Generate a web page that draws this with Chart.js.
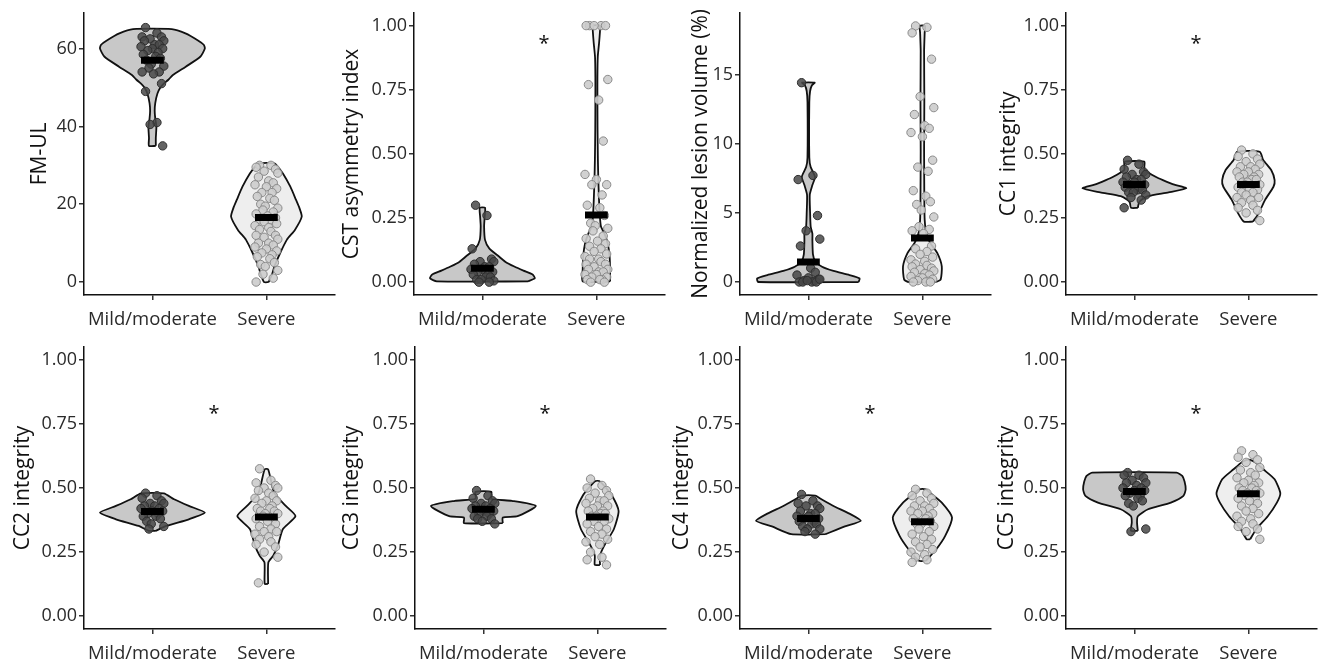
<!DOCTYPE html>
<html>
<head>
<meta charset="utf-8">
<script src="https://cdn.jsdelivr.net/npm/chart.js@4.4.1/dist/chart.umd.min.js"></script>
<style>
  html, body { margin: 0; padding: 0; background: #fff; }
  #wrap { position: relative; width: 1321px; height: 661px; overflow: hidden; }
  #wrap canvas { position: absolute; }
</style>
</head>
<body>
<div id="wrap"></div>
<script>
// ---- data ----
const groups = ['Mild/moderate', 'Severe'];

const yTitles = ['FM-UL', 'CST asymmetry index', 'Normalized lesion volume (%)', 'CC1 integrity',
  'CC2 integrity', 'CC3 integrity', 'CC4 integrity', 'CC5 integrity'];

const unitTicks = [0, 0.25, 0.5, 0.75, 1];
const unitLabels = ['0.00', '0.25', '0.50', '0.75', '1.00'];
const yTickValues = [[0, 20, 40, 60], unitTicks, [0, 5, 10, 15], unitTicks, unitTicks, unitTicks, unitTicks, unitTicks];
const yTickLabels = [['0', '20', '40', '60'], unitLabels, ['0', '5', '10', '15'], unitLabels,
  unitLabels, unitLabels, unitLabels, unitLabels];
const yRanges = [[-3.33, 69.2], [-0.05, 1.05], [-0.94, 19.45], [-0.05, 1.05],
  [-0.05, 1.05], [-0.05, 1.05], [-0.05, 1.05], [-0.05, 1.05]];

const medianMild = [57, 0.054, 1.44, 0.381, 0.408, 0.417, 0.381, 0.486];
const medianSevere = [16.6, 0.262, 3.17, 0.381, 0.387, 0.387, 0.368, 0.478];

// significance marks (value on y axis; null = none)
const starY = [null, 0.945, null, 0.945, 0.805, 0.805, 0.805, 0.805];

// violin outlines: [value, half width in category units], bottom to top
const violinMild = [
  [[35, 0.03], [37, 0.03], [40, 0.035], [42, 0.025], [44, 0.02], [46, 0.025], [48.5, 0.045], [50, 0.07], [51, 0.1], [52, 0.14], [53.2, 0.18], [55.3, 0.29], [57.9, 0.42], [60, 0.46], [61, 0.45], [62.1, 0.40], [63.9, 0.29], [65, 0.17]],
  [[0.003, 0.40], [0.015, 0.46], [0.03, 0.44], [0.045, 0.36], [0.061, 0.28], [0.08, 0.2], [0.10, 0.145], [0.132, 0.06], [0.165, 0.023], [0.217, 0.015], [0.255, 0.02], [0.29, 0.023]],
  [[0, 0.44], [0.25, 0.45], [0.5, 0.36], [0.8, 0.22], [1.1, 0.12], [1.5, 0.06], [2.0, 0.04], [3.0, 0.035], [3.5, 0.035], [4.0, 0.02], [5.0, 0.015], [6.3, 0.012], [7.0, 0.035], [7.6, 0.058], [8.3, 0.02], [9, 0.008], [13, 0.008], [13.8, 0.015], [14.2, 0.03], [14.4, 0.055]],
  [[0.29, 0.03], [0.31, 0.04], [0.32, 0.06], [0.335, 0.12], [0.35, 0.3], [0.366, 0.455], [0.38, 0.35], [0.398, 0.25], [0.41, 0.19], [0.437, 0.09], [0.45, 0.087], [0.47, 0.087]],
  [[0.333, 0.03], [0.352, 0.12], [0.378, 0.32], [0.404, 0.46], [0.43, 0.32], [0.456, 0.19], [0.479, 0.1]],
  [[0.363, 0.17], [0.385, 0.17], [0.39, 0.30], [0.43, 0.46], [0.45, 0.25], [0.458, 0.07], [0.485, 0.07]],
  [[0.32, 0.15], [0.35, 0.32], [0.372, 0.46], [0.40, 0.36], [0.43, 0.22], [0.46, 0.1], [0.47, 0.06]],
  [[0.333, 0.03], [0.365, 0.023], [0.39, 0.03], [0.417, 0.12], [0.443, 0.32], [0.469, 0.43], [0.495, 0.45], [0.525, 0.44], [0.547, 0.42], [0.56, 0.37]],
];
const violinSevere = [
  [[0, 0.02], [2, 0.05], [4, 0.07], [7.4, 0.12], [10.9, 0.18], [13.4, 0.25], [16.8, 0.31], [19, 0.29], [21.1, 0.26], [24.5, 0.21], [27.9, 0.145], [30, 0.09], [30.5, 0.07]],
  [[0.003, 0.12], [0.05, 0.12], [0.10, 0.116], [0.15, 0.10], [0.19, 0.07], [0.217, 0.04], [0.26, 0.03], [0.32, 0.023], [0.40, 0.017], [0.48, 0.013], [0.6, 0.01], [0.71, 0.009], [0.8, 0.009], [0.878, 0.012], [0.93, 0.023], [0.969, 0.03], [1.0, 0.03]],
  [[0, 0.12], [0.17, 0.16], [1.13, 0.17], [2.1, 0.13], [2.8, 0.07], [3.5, 0.035], [4.5, 0.02], [5.9, 0.017], [9.5, 0.015], [13.1, 0.017], [16.7, 0.015], [18, 0.02], [18.5, 0.023]],
  [[0.236, 0.04], [0.268, 0.09], [0.32, 0.145], [0.372, 0.22], [0.398, 0.23], [0.437, 0.2], [0.476, 0.13], [0.508, 0.1]],
  [[0.126, 0.015], [0.21, 0.017], [0.236, 0.06], [0.275, 0.1], [0.34, 0.145], [0.39, 0.255], [0.43, 0.17], [0.48, 0.07], [0.52, 0.045], [0.573, 0.015]],
  [[0.2, 0.023], [0.236, 0.023], [0.275, 0.06], [0.34, 0.145], [0.41, 0.186], [0.469, 0.13], [0.508, 0.06], [0.527, 0.015]],
  [[0.216, 0.03], [0.26, 0.12], [0.313, 0.2], [0.385, 0.26], [0.443, 0.17], [0.48, 0.07], [0.495, 0.03]],
  [[0.30, 0.015], [0.34, 0.07], [0.39, 0.17], [0.443, 0.25], [0.48, 0.28], [0.534, 0.23], [0.573, 0.13], [0.60, 0.06], [0.61, 0.015]],
];

// individual subjects
const pointsMild = [
  [65.4, 64, 63, 63, 62.5, 62, 62, 61, 61, 60.5, 60, 60, 59.5, 59, 58.5, 58, 57.5, 57, 56, 55.5, 55, 54, 54, 53.5, 51, 49, 41, 40.5, 35],
  [0.30, 0.26, 0.13, 0.09, 0.08, 0.08, 0.07, 0.06, 0.06, 0.05, 0.05, 0.04, 0.04, 0.03, 0.03, 0.02, 0.02, 0.01, 0.01, 0.005, 0.0, 0.0],
  [14.4, 7.7, 7.4, 4.8, 3.7, 3.1, 2.6, 1.0, 0.7, 0.5, 0.3, 0.2, 0.1, 0.05, 0.0, 0.0, 0.0, 0.0, 0.1, 0.2],
  [0.475, 0.46, 0.44, 0.43, 0.42, 0.42, 0.41, 0.40, 0.40, 0.39, 0.39, 0.38, 0.38, 0.37, 0.37, 0.36, 0.36, 0.35, 0.35, 0.34, 0.33, 0.32, 0.29],
  [0.48, 0.47, 0.46, 0.45, 0.44, 0.44, 0.43, 0.43, 0.42, 0.42, 0.41, 0.41, 0.40, 0.40, 0.39, 0.39, 0.38, 0.37, 0.36, 0.35, 0.34],
  [0.49, 0.47, 0.46, 0.45, 0.44, 0.44, 0.43, 0.43, 0.42, 0.42, 0.41, 0.41, 0.40, 0.40, 0.39, 0.39, 0.38, 0.38, 0.37, 0.36],
  [0.475, 0.45, 0.44, 0.43, 0.43, 0.42, 0.41, 0.40, 0.40, 0.39, 0.39, 0.38, 0.38, 0.37, 0.37, 0.36, 0.36, 0.35, 0.34, 0.34, 0.33, 0.32],
  [0.56, 0.55, 0.55, 0.54, 0.53, 0.52, 0.52, 0.51, 0.50, 0.50, 0.49, 0.49, 0.48, 0.47, 0.47, 0.46, 0.45, 0.44, 0.43, 0.34, 0.33],
];
const pointsSevere = [
  [30, 30, 29.5, 29, 28.5, 28, 27, 26, 25.5, 25, 24.5, 24, 23, 23, 22, 21.5, 21, 20, 19.5, 19, 18.5, 18, 17.5, 17, 16.5, 16, 16, 15.5, 15, 14.5, 14, 13.5, 13, 12, 12, 11.5, 11, 10, 10, 9.5, 9, 8.5, 8, 7.5, 7, 6.5, 6, 5, 4.5, 4, 3, 2, 1, 0],
  [1.0, 1.0, 1.0, 1.0, 1.0, 0.79, 0.77, 0.71, 0.55, 0.42, 0.40, 0.38, 0.38, 0.34, 0.30, 0.29, 0.26, 0.23, 0.22, 0.21, 0.20, 0.18, 0.17, 0.16, 0.15, 0.14, 0.13, 0.12, 0.11, 0.10, 0.09, 0.09, 0.08, 0.07, 0.07, 0.06, 0.05, 0.05, 0.04, 0.04, 0.03, 0.03, 0.02, 0.02, 0.01, 0.01, 0.01, 0.0, 0.0],
  [18.5, 18.4, 18.0, 16.1, 13.4, 12.6, 12.1, 11.3, 11.1, 10.8, 10.5, 8.8, 8.3, 8.0, 6.6, 6.2, 5.8, 5.6, 5.2, 4.7, 4.0, 3.8, 3.7, 3.5, 2.6, 2.4, 2.2, 2.0, 1.8, 1.6, 1.5, 1.3, 1.2, 1.1, 1.0, 0.9, 0.8, 0.7, 0.6, 0.5, 0.4, 0.3, 0.2, 0.1, 0.05, 0.0, 0.0, 0.0],
  [0.515, 0.50, 0.49, 0.48, 0.47, 0.46, 0.45, 0.45, 0.44, 0.43, 0.43, 0.42, 0.42, 0.41, 0.41, 0.40, 0.40, 0.39, 0.39, 0.38, 0.38, 0.37, 0.37, 0.36, 0.36, 0.35, 0.35, 0.34, 0.33, 0.33, 0.32, 0.31, 0.30, 0.29, 0.28, 0.27, 0.24],
  [0.575, 0.53, 0.52, 0.51, 0.50, 0.50, 0.49, 0.48, 0.47, 0.46, 0.45, 0.45, 0.44, 0.43, 0.42, 0.42, 0.41, 0.41, 0.40, 0.40, 0.39, 0.38, 0.38, 0.37, 0.36, 0.35, 0.34, 0.33, 0.33, 0.32, 0.31, 0.30, 0.29, 0.28, 0.27, 0.25, 0.23, 0.13],
  [0.535, 0.51, 0.50, 0.49, 0.48, 0.47, 0.46, 0.45, 0.45, 0.44, 0.43, 0.43, 0.42, 0.41, 0.41, 0.40, 0.40, 0.39, 0.39, 0.38, 0.37, 0.37, 0.36, 0.35, 0.34, 0.33, 0.32, 0.31, 0.30, 0.29, 0.28, 0.25, 0.23, 0.22, 0.20],
  [0.495, 0.48, 0.47, 0.46, 0.45, 0.44, 0.43, 0.43, 0.42, 0.41, 0.41, 0.40, 0.40, 0.39, 0.38, 0.38, 0.37, 0.36, 0.36, 0.35, 0.34, 0.33, 0.32, 0.31, 0.30, 0.29, 0.28, 0.27, 0.26, 0.25, 0.24, 0.23, 0.22, 0.21],
  [0.645, 0.63, 0.62, 0.61, 0.60, 0.58, 0.57, 0.56, 0.55, 0.54, 0.53, 0.52, 0.52, 0.51, 0.50, 0.50, 0.49, 0.49, 0.48, 0.48, 0.47, 0.46, 0.46, 0.45, 0.44, 0.43, 0.42, 0.41, 0.40, 0.39, 0.38, 0.37, 0.36, 0.35, 0.34, 0.33, 0.30],
];

const jitter = [-0.06, 0.04, -0.09, 0.08, -0.02, 0.1, -0.07, 0.02, 0.06, -0.1, 0.0, 0.09, -0.04, 0.05, -0.08,
  0.03, 0.07, -0.05, -0.01, 0.1, -0.03, 0.06, -0.09, 0.01, 0.08, -0.06, 0.04, -0.02, 0.09, -0.1, 0.02];

// ---- layout ----
const FONT = '"Open Sans", "Noto Sans", sans-serif';
const colLeft = [0, 330, 660, 990];
const axisX = [84, 84, 80, 76, 84, 85, 80, 76];     // y axis line inside each panel
const titleX = [40, 22, 41, 19, 23, 22, 22, 17];    // centre of the rotated y title
const PLOT_W = 253;

const starPlugin = {
  id: 'star',
  afterDatasetsDraw(chart, args, opts) {
    if (opts.y == null) return;
    const { ctx, scales } = chart;
    ctx.save();
    ctx.font = '20px ' + FONT;
    ctx.fillStyle = '#111';
    ctx.textAlign = 'center';
    ctx.textBaseline = 'alphabetic';
    ctx.fillText('*', scales.x.getPixelForValue(1.54), scales.y.getPixelForValue(opts.y) + 10);
    ctx.restore();
  },
};

function outline(profile, cx) {
  const right = profile.map(([v, w]) => ({ x: cx + w, y: v }));
  const left = profile.slice().reverse().map(([v, w]) => ({ x: cx - w, y: v }));
  const pts = right.concat(left);
  pts.push(pts[0]);
  return pts;
}

function dots(values, cx) {
  return values.map((v, i) => ({ x: cx + jitter[i % jitter.length], y: v }));
}

function violinSet(profile, cx, fill) {
  return {
    data: outline(profile, cx), showLine: true, fill: 'shape', backgroundColor: fill,
    borderColor: '#111', borderWidth: 1.8, pointRadius: 0, tension: 0.2, order: 3,
  };
}

function medianSet(m, cx) {
  return {
    data: [{ x: cx - 0.1, y: m }, { x: cx + 0.1, y: m }], showLine: true, fill: false,
    borderColor: '#000', borderWidth: 7, borderCapStyle: 'butt', pointRadius: 0, order: 0,
  };
}

const wrap = document.getElementById('wrap');

for (let i = 0; i < 8; i++) {
  const row = Math.floor(i / 4);
  const col = i % 4;
  const H = row === 0 ? 330 : 331;
  const W = axisX[i] + PLOT_W + 3;
  const canvas = document.createElement('canvas');
  canvas.width = W;
  canvas.height = H;
  canvas.style.left = colLeft[col] + 'px';
  canvas.style.top = (row === 0 ? 0 : 330) + 'px';
  wrap.appendChild(canvas);

  const titleFont = { family: FONT, size: 21 };
  const titleHalf = 21 * 1.2 / 2;

  new Chart(canvas, {
    type: 'scatter',
    data: {
      datasets: [
        medianSet(medianMild[i], 1),
        medianSet(medianSevere[i], 2),
        { data: dots(pointsMild[i], 1), pointRadius: 4.2, pointBackgroundColor: 'rgba(72,72,72,0.85)', pointBorderColor: '#2e2e2e', pointBorderWidth: 1, order: 1 },
        { data: dots(pointsSevere[i], 2), pointRadius: 4.2, pointBackgroundColor: 'rgba(204,204,204,0.9)', pointBorderColor: '#8a8a8a', pointBorderWidth: 1, order: 1 },
        violinSet(violinMild[i], 1, '#c8c8c8'),
        violinSet(violinSevere[i], 2, '#eeeeee'),
      ],
    },
    options: {
      responsive: false,
      animation: false,
      events: [],
      layout: { padding: { left: 0, right: 3, top: row === 0 ? 12 : 17, bottom: 0 } },
      plugins: { legend: { display: false }, tooltip: { enabled: false }, star: { y: starY[i] } },
      scales: {
        x: {
          type: 'linear', min: 0.4, max: 2.6,
          afterBuildTicks: (s) => { s.ticks = groups.map((g, k) => ({ value: k + 1 })); },
          afterFit: (s) => { s.height = row === 0 ? 35 : 32; },
          ticks: {
            autoSkip: false, maxRotation: 0, padding: 9, color: '#2a2a2a',
            font: { family: FONT, size: 18.5 },
            callback: (v) => groups[Math.round(v) - 1],
          },
          grid: { display: true, drawOnChartArea: false, drawTicks: true, tickLength: 5, color: '#333', lineWidth: 1.5 },
          border: { display: true, color: '#111', width: 1.5 },
        },
        y: {
          type: 'linear', min: yRanges[i][0], max: yRanges[i][1],
          afterBuildTicks: (s) => { s.ticks = yTickValues[i].map((v) => ({ value: v })); },
          afterFit: (s) => { s.width = axisX[i]; },
          ticks: {
            padding: 2, color: '#2a2a2a', font: { family: FONT, size: 18 },
            callback: (v) => yTickLabels[i][yTickValues[i].indexOf(v)],
          },
          grid: { display: true, drawOnChartArea: false, drawTicks: true, tickLength: 5, color: '#333', lineWidth: 1.5 },
          border: { display: true, color: '#111', width: 1.5 },
          title: {
            display: true, text: yTitles[i], color: '#111', font: titleFont,
            padding: { top: Math.max(titleX[i] - titleHalf, 0), bottom: 0 },
          },
        },
      },
    },
    plugins: [starPlugin],
  });
}
</script>
</body>
</html>
